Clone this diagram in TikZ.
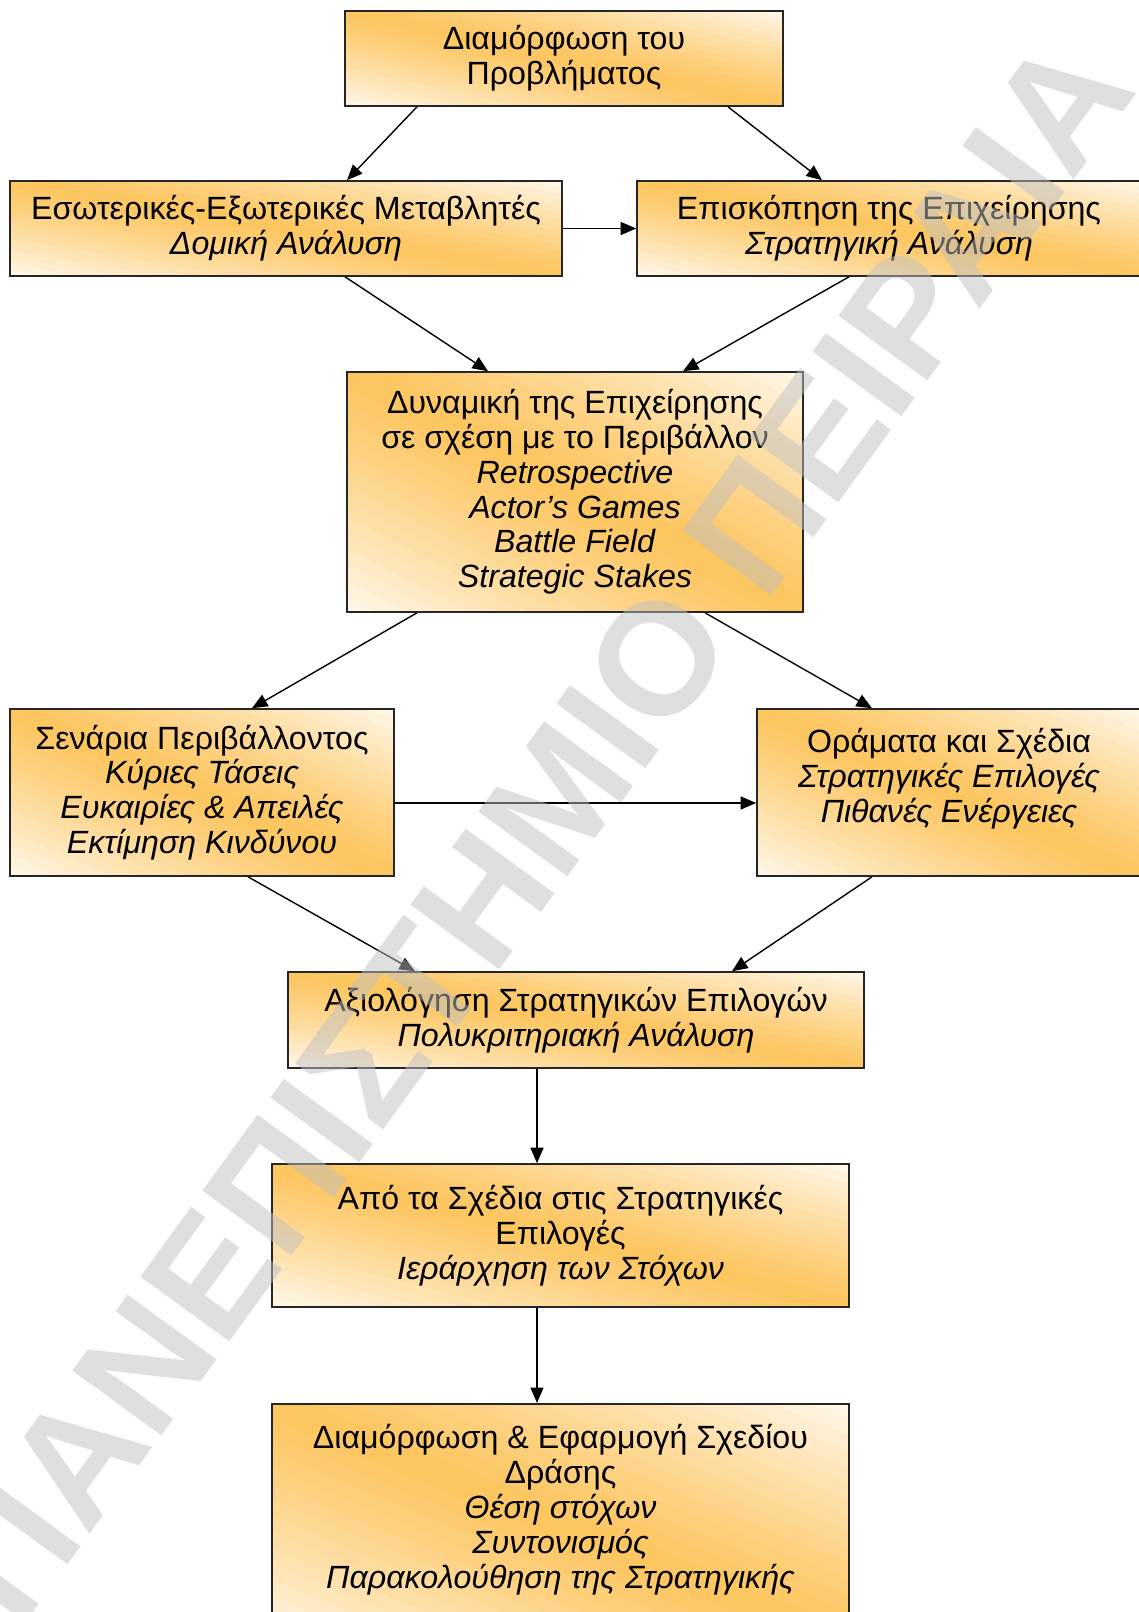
\documentclass[tikz,border=0pt]{standalone}
\usepackage{fontspec}
\setmainfont{Liberation Sans}
\usetikzlibrary{arrows.meta}
\definecolor{boxorange}{RGB}{252,197,95}
\definecolor{boxcream}{RGB}{255,248,234}
\definecolor{wmgray}{RGB}{192,192,192}
\tikzset{
  box/.style 2 args={draw=black!85, line width=0.9pt, align=center, inner sep=2pt,
    minimum width=#1cm, minimum height=#2cm,
    font=\fontsize{18.3}{19.8}\selectfont,
    path picture={
      \foreach \k in {0,...,29} {
        \pgfmathsetmacro\pct{100*(1-abs((\k+0.5)/15-1)^1.2)}
        \fill [boxorange!\pct!boxcream] (path picture bounding box.south west)
          ++({(\k/15+1)*#1},{-#2}) -- ++({-3*#1},{3*#2}) -- ++({1.05/15*#1},0) -- ++({3*#1},{-3*#2}) -- cycle;
      }
    }},
  arr/.style={line width=0.8pt, -{Triangle[length=0.31cm,width=0.26cm]}},
  wmark/.style={text=wmgray, text opacity=0.5, inner sep=0pt,
    font=\fontsize{91}{100}\selectfont\bfseries}
}
\begin{document}
\begin{tikzpicture}
\useasboundingbox (0,0) rectangle (22.78,-32.24);
\clip (0,0) rectangle (22.78,-32.24);

\node [box={8.76}{1.90}] (b1) at (11.28,-1.17) {Διαμόρφωση του\\Προβλήματος};
\node [box={11.04}{1.90}] (b2) at (5.72,-4.57) {Εσωτερικές-Εξωτερικές Μεταβλητές\\\textit{Δομική Ανάλυση}};
\node [box={10.08}{1.90}] (b3) at (17.78,-4.57) {Επισκόπηση της Επιχείρησης\\\textit{Στρατηγική Ανάλυση}};
\node [box={9.12}{4.80}] (b4) at (11.50,-9.84) {Δυναμική της Επιχείρησης\\σε σχέση με το Περιβάλλον\\\textit{Retrospective}\\\textit{Actor’s Games}\\\textit{Battle Field}\\\textit{Strategic Stakes}};
\node [box={7.68}{3.34}] (b5) at (4.04,-15.85) {Σενάρια Περιβάλλοντος\\\textit{Κύριες Τάσεις}\\\textit{Ευκαιρίες \& Απειλές}\\\textit{Εκτίμηση Κινδύνου}};
\node [box={7.68}{3.34}] (b6) at (18.98,-15.85) {Οράματα και Σχέδια\\\textit{Στρατηγικές Επιλογές}\\\textit{Πιθανές Ενέργειες}\\\mbox{}};
\node [box={11.52}{1.92}] (b7) at (11.52,-20.40) {Αξιολόγηση Στρατηγικών Επιλογών\\\textit{Πολυκριτηριακή Ανάλυση}};
\node [box={11.54}{2.86}] (b8) at (11.21,-24.71) {Από τα Σχέδια στις Στρατηγικές\\Επιλογές\\\textit{Ιεράρχηση των Στόχων}};
\node [box={11.54}{4.80}, anchor=north] (b9) at (11.21,-28.06) {Διαμόρφωση \& Εφαρμογή Σχεδίου\\Δράσης\\\textit{Θέση στόχων}\\\textit{Συντονισμός}\\\textit{Παρακολούθηση της Στρατηγικής}\\\mbox{}};

\draw [arr] ([xshift=-2.94cm]b1.south) -- ([xshift=1.22cm]b2.north);
\draw [arr] ([xshift=3.28cm]b1.south) -- ([xshift=-1.34cm]b3.north);
\draw [arr] (b2.east) -- (b3.west);
\draw [arr] ([xshift=1.18cm]b2.south) -- ([xshift=-1.74cm]b4.north);
\draw [arr] ([xshift=-0.80cm]b3.south) -- ([xshift=2.16cm]b4.north);
\draw [arr] ([xshift=-3.16cm]b4.south) -- ([xshift=1.00cm]b5.north);
\draw [arr] ([xshift=2.60cm]b4.south) -- ([xshift=-1.54cm]b6.north);
\draw [arr] ([yshift=-0.21cm]b5.east) -- ([yshift=-0.21cm]b6.west);
\draw [arr] ([xshift=0.92cm]b5.south) -- ([xshift=-3.22cm]b7.north);
\draw [arr] ([xshift=-1.54cm]b6.south) -- ([xshift=3.12cm]b7.north);
\draw [arr] ([xshift=-0.78cm]b7.south) coordinate (s7) -- (s7 |- b8.north);
\draw [arr] ([xshift=-0.47cm]b8.south) coordinate (s8) -- (s8 |- b9.north);

\node [wmark, rotate=54] (wm) at (10.70,-16.56) {ΠΑΝΕΠΙΣΤΗΜΙΟ ΠΕΙΡΑΙΑ};
\end{tikzpicture}
\end{document}
